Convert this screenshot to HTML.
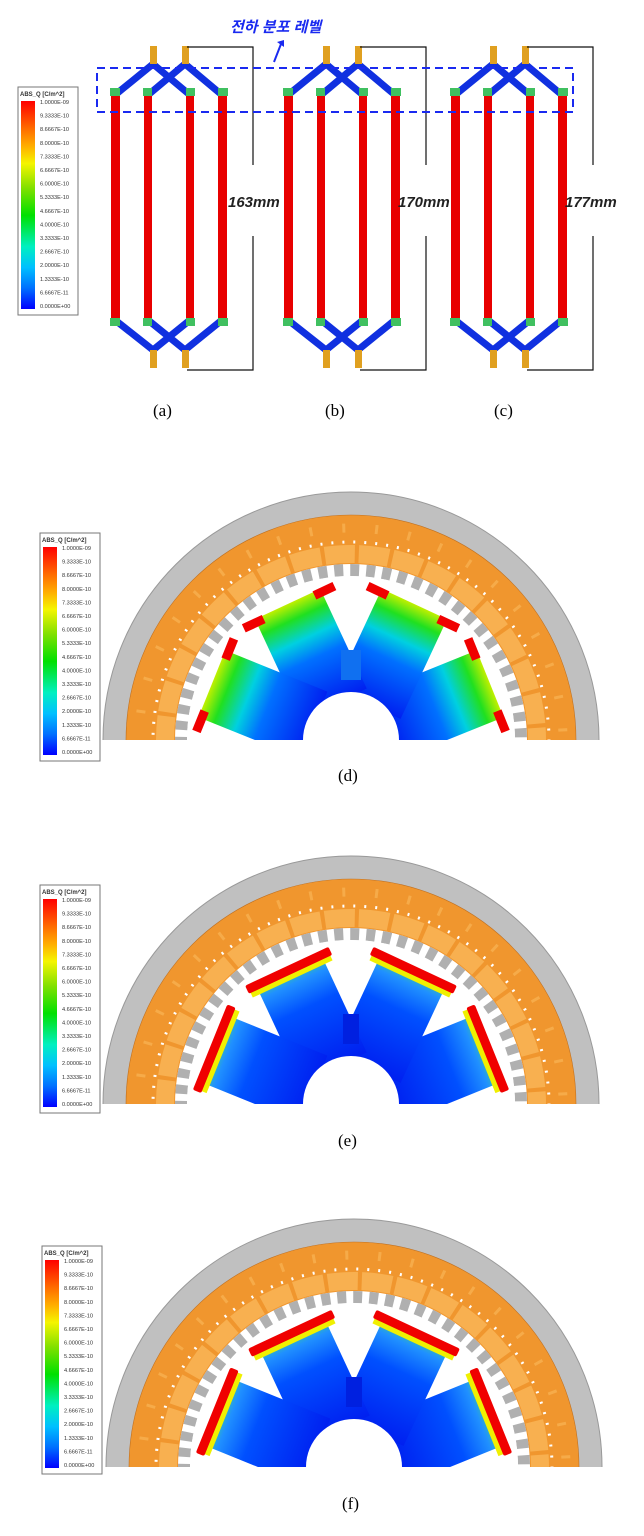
<!DOCTYPE html>
<html><head><meta charset="utf-8"><style>
html,body{margin:0;padding:0;background:#fff;width:644px;height:1536px;overflow:hidden}
svg{display:block}
.lt{font-family:"Liberation Sans",sans-serif;font-size:5.6px;fill:#333}
.cap{font-family:"Liberation Serif",serif;font-size:17px;fill:#000}
.mm{font-family:"Liberation Sans",sans-serif;font-size:15px;font-style:italic;font-weight:bold;fill:#222}
</style></head><body>
<svg width="644" height="1536" viewBox="0 0 644 1536" xmlns="http://www.w3.org/2000/svg">
<defs>
<linearGradient id="lg" x1="0" y1="0" x2="0" y2="1">
<stop offset="0" stop-color="#ff0000"/><stop offset=".13" stop-color="#ff6a00"/><stop offset=".22" stop-color="#ffb000"/><stop offset=".3" stop-color="#f5f500"/><stop offset=".42" stop-color="#80e000"/><stop offset=".55" stop-color="#00e000"/><stop offset=".7" stop-color="#00f0c0"/><stop offset=".8" stop-color="#00c0ff"/><stop offset=".9" stop-color="#0070ff"/><stop offset="1" stop-color="#0000ff"/>
</linearGradient>
<g id="leg">
<rect x="0" y="0" width="60" height="228" fill="#fff" stroke="#777" stroke-width="1"/>
<text x="2" y="9" class="lt" style="font-weight:bold;font-size:6px">ABS_Q [C/m^2]</text>
<rect x="3" y="14" width="14" height="208" fill="url(#lg)"/>
<g class="lt">
<text x="22" y="17">1.0000E-09</text><text x="22" y="30.6">9.3333E-10</text><text x="22" y="44.2">8.6667E-10</text><text x="22" y="57.8">8.0000E-10</text><text x="22" y="71.4">7.3333E-10</text><text x="22" y="85">6.6667E-10</text><text x="22" y="98.6">6.0000E-10</text><text x="22" y="112.2">5.3333E-10</text><text x="22" y="125.8">4.6667E-10</text><text x="22" y="139.4">4.0000E-10</text><text x="22" y="153">3.3333E-10</text><text x="22" y="166.6">2.6667E-10</text><text x="22" y="180.2">2.0000E-10</text><text x="22" y="193.8">1.3333E-10</text><text x="22" y="207.4">6.6667E-11</text><text x="22" y="221">0.0000E+00</text>
</g></g>
<g id="coil">
<g stroke="#1030e0" stroke-width="7" fill="none" stroke-linecap="round">
<path d="M115 95 L153 64 L190 95 M148 95 L185 64 L222 95"/>
<path d="M115 320 L153 350 L190 320 M148 320 L185 350 L222 320"/>
</g>
<g fill="#e0a020"><rect x="150" y="46" width="7" height="18"/><rect x="182" y="46" width="7" height="18"/><rect x="150" y="350" width="7" height="18"/><rect x="182" y="350" width="7" height="18"/></g>
<g fill="#e80000"><rect x="111" y="95" width="9" height="225"/><rect x="144" y="95" width="8" height="225"/><rect x="186" y="95" width="8" height="225"/><rect x="218" y="95" width="9" height="225"/></g>
<g fill="#40c060"><rect x="110" y="88" width="10" height="8"/><rect x="143" y="88" width="9" height="8"/><rect x="186" y="88" width="9" height="8"/><rect x="218" y="88" width="10" height="8"/><rect x="110" y="318" width="10" height="8"/><rect x="143" y="318" width="9" height="8"/><rect x="186" y="318" width="9" height="8"/><rect x="218" y="318" width="10" height="8"/></g>
<path d="M187 47 H253 V165 M253 236 V370 H187" stroke="#111" stroke-width="1.2" fill="none"/>
</g>
<g id="motor">
<circle r="248" fill="#c0c0c0" stroke="#999"/>
<circle r="225" fill="#f0962e" stroke="#c07020" stroke-width=".6"/>
<circle r="212" fill="none" stroke="#f8b050" stroke-width="9" stroke-dasharray="3 30" opacity=".8"/>
<circle r="198" fill="none" stroke="#fff" stroke-width="3" stroke-dasharray="2 9"/>
<circle r="186" fill="none" stroke="#f8b050" stroke-width="18" stroke-dasharray="30 4"/>
<circle r="176" fill="#fff"/>
<circle r="170" fill="none" stroke="#b0b0b0" stroke-width="12" stroke-dasharray="9 7"/>
<circle r="164" fill="#fff"/>
</g>
<linearGradient id="armd" x1="40" y1="0" x2="150" y2="0" gradientUnits="userSpaceOnUse">
<stop offset="0" stop-color="#0020f0"/><stop offset=".45" stop-color="#0070ff"/><stop offset=".65" stop-color="#00d0e0"/><stop offset=".85" stop-color="#20e020"/><stop offset="1" stop-color="#c0f000"/></linearGradient>
<linearGradient id="arme" x1="40" y1="0" x2="150" y2="0" gradientUnits="userSpaceOnUse">
<stop offset="0" stop-color="#0020f0"/><stop offset=".6" stop-color="#0050ff"/><stop offset=".85" stop-color="#2090ff"/><stop offset="1" stop-color="#40e080"/></linearGradient>
<g id="armD"><rect x="40" y="-36" width="110" height="72" fill="url(#armd)"/><rect x="142" y="-50" width="9" height="22" fill="#f00000"/><rect x="142" y="28" width="9" height="22" fill="#f00000"/></g>
<g id="armE"><rect x="40" y="-36" width="108" height="72" fill="url(#arme)"/><rect x="138" y="-44" width="6" height="88" fill="#f0f000"/><rect x="143" y="-46" width="9" height="92" fill="#f00000" rx="2"/></g>
<clipPath id="half"><rect x="-260" y="-260" width="520" height="260"/></clipPath>
</defs>

<use href="#leg" x="18" y="87"/>
<use href="#coil"/>
<use href="#coil" x="173"/>
<use href="#coil" x="340"/>
<text x="228" y="207" class="mm">163mm</text>
<text x="398" y="207" class="mm">170mm</text>
<text x="565" y="207" class="mm">177mm</text>
<rect x="97" y="68" width="476" height="44" fill="none" stroke="#1a2af0" stroke-width="2" stroke-dasharray="8 5"/>
<text x="230" y="32" style="font-family:'Liberation Sans','Noto Sans CJK KR',sans-serif;font-size:15px;font-style:italic;font-weight:bold;fill:#1a2af0">전하 분포 레벨</text>
<path d="M274 62 L281 44" stroke="#1a2af0" stroke-width="2"/><path d="M277 42 L284 40 L284 47 Z" fill="#1a2af0"/>
<text x="153" y="416" class="cap">(a)</text>
<text x="325" y="416" class="cap">(b)</text>
<text x="494" y="416" class="cap">(c)</text>

<use href="#leg" x="40" y="533"/>
<g transform="translate(351,740)" clip-path="url(#half)">
<use href="#motor"/>
<circle r="80" fill="#0040f0"/>
<use href="#armD" transform="rotate(-22)"/><use href="#armD" transform="rotate(-65)"/><use href="#armD" transform="rotate(-115)"/><use href="#armD" transform="rotate(-158)"/>
<rect x="-10" y="-90" width="20" height="30" fill="#1070f0"/>
<circle r="48" fill="#fff"/>
</g>
<text x="338" y="781" class="cap">(d)</text>

<use href="#leg" x="40" y="885"/>
<g transform="translate(351,1104)" clip-path="url(#half)">
<use href="#motor"/>
<circle r="80" fill="#0030f0"/>
<use href="#armE" transform="rotate(-22)"/><use href="#armE" transform="rotate(-65)"/><use href="#armE" transform="rotate(-115)"/><use href="#armE" transform="rotate(-158)"/>
<rect x="-8" y="-90" width="16" height="30" fill="#0020e0"/>
<circle r="48" fill="#fff"/>
</g>
<text x="338" y="1146" class="cap">(e)</text>

<use href="#leg" x="42" y="1246"/>
<g transform="translate(354,1467)" clip-path="url(#half)">
<use href="#motor"/>
<circle r="80" fill="#0030f0"/>
<use href="#armE" transform="rotate(-22)"/><use href="#armE" transform="rotate(-65)"/><use href="#armE" transform="rotate(-115)"/><use href="#armE" transform="rotate(-158)"/>
<rect x="-8" y="-90" width="16" height="30" fill="#0020e0"/>
<circle r="48" fill="#fff"/>
</g>
<text x="342" y="1509" class="cap">(f)</text>
</svg>
</body></html>
